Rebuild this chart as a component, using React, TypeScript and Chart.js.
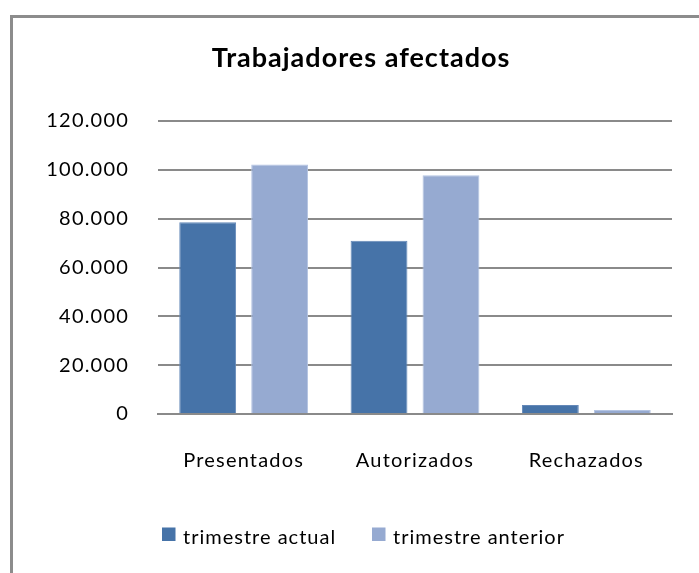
import React, { useEffect, useRef } from "react";
import { Chart, registerables } from "chart.js";

Chart.register(...registerables);

const categories = ["Presentados", "Autorizados", "Rechazados"];
const seriesNames = ["trimestre actual", "trimestre anterior"];
const actualValues = [78500, 71000, 3700];
const previousValues = [102200, 97800, 1600];
const yTicks = [0, 20000, 40000, 60000, 80000, 100000, 120000];
const titleText = "Trabajadores afectados";

const DARK = "#4673a8";
const LIGHT = "#96aad1";
const FONT = "Lato";

const fmt = (v: number) => {
  const s = Math.round(v).toString();
  return s.replace(/\B(?=(\d{3})+(?!\d))/g, ".");
};

const framePlugin = {
  id: "frame",
  beforeDraw(chart: any) {
    const ctx = chart.ctx;
    ctx.save();
    ctx.fillStyle = "#ffffff";
    ctx.fillRect(0, 0, chart.width, chart.height);
    ctx.strokeStyle = "#8c8c8c";
    ctx.lineWidth = 3;
    ctx.beginPath();
    ctx.moveTo(11.5, chart.height + 10);
    ctx.lineTo(11.5, 16.5);
    ctx.lineTo(chart.width + 10, 16.5);
    ctx.stroke();
    ctx.restore();
    (ctx as any).letterSpacing = "1.2px";
  },
  afterDraw(chart: any) {
    const ctx = chart.ctx;
    ctx.save();
    // title
    (ctx as any).letterSpacing = "1px";
    ctx.fillStyle = "#000000";
    ctx.font = `bold 27px ${FONT}`;
    ctx.textAlign = "center";
    ctx.textBaseline = "alphabetic";
    ctx.fillText(titleText, 361, 67);
    // legend
    (ctx as any).letterSpacing = "1px";
    const items = chart.data.datasets;
    const xs = [162, 372];
    ctx.font = `20px ${FONT}`;
    ctx.textAlign = "left";
    items.forEach((ds: any, i: number) => {
      ctx.fillStyle = ds.backgroundColor;
      ctx.fillRect(xs[i], 527.5, 13.5, 13.5);
      ctx.fillStyle = "#000000";
      ctx.fillText(ds.label, xs[i] + 21, 544);
    });
    ctx.restore();
  },
};

export default function App() {
  const ref = useRef<HTMLCanvasElement | null>(null);
  useEffect(() => {
    if (!ref.current) return;
    const chart = new Chart(ref.current, {
      type: "bar",
      data: {
        labels: categories,
        datasets: [
          {
            label: seriesNames[0],
            data: actualValues,
            backgroundColor: DARK,
            borderColor: "#6488b8",
            borderWidth: 1,
            categoryPercentage: 0.84,
            barPercentage: 0.79,
          },
          {
            label: seriesNames[1],
            data: previousValues,
            backgroundColor: LIGHT,
            borderColor: "#b4c4e2",
            borderWidth: 1,
            categoryPercentage: 0.84,
            barPercentage: 0.79,
          },
        ],
      },
      options: {
        responsive: false,
        animation: false,
        devicePixelRatio: 1,
        layout: { padding: { top: 121, right: 27, left: 0, bottom: 0 } },
        plugins: {
          legend: { display: false },
          title: { display: false },
          tooltip: { enabled: false },
        },
        scales: {
          x: {
            grid: { display: false, drawTicks: false },
            border: { display: true, color: "#8a8a8a", width: 2 },
            ticks: {
              color: "#000000",
              font: { family: FONT, size: 20 },
              padding: 35,
            },
            afterFit(scale: any) {
              scale.height = 573 - 414;
            },
          },
          y: {
            min: 0,
            max: 120000,
            grid: { color: "#8a8a8a", lineWidth: 2, drawTicks: false },
            border: { display: false },
            afterBuildTicks(scale: any) {
              scale.ticks = yTicks.map((v) => ({ value: v }));
            },
            ticks: {
              color: "#000000",
              font: { family: FONT, size: 20 },
              padding: 29,
              callback: (v: any) => fmt(Number(v)),
            },
            afterFit(scale: any) {
              scale.width = 158;
            },
          },
        },
      },
      plugins: [framePlugin],
    });
    return () => chart.destroy();
  }, []);
  return (
    <div
      style={{
        position: "fixed",
        left: 0,
        top: 0,
        width: 699,
        height: 573,
        overflow: "hidden",
        background: "#fff",
      }}
    >
      <canvas ref={ref} width={699} height={573} style={{ display: "block" }} />
    </div>
  );
}
